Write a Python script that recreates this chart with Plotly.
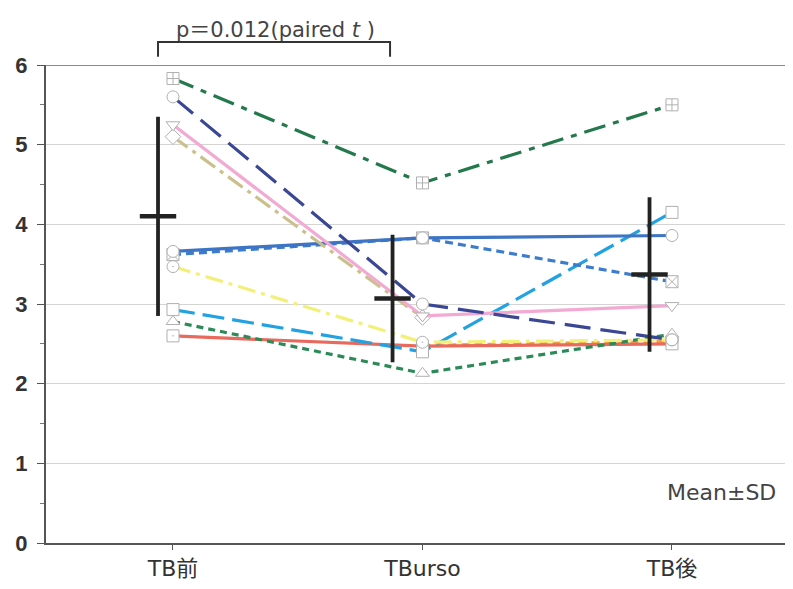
import plotly.graph_objects as go

categories = ["TB前", "TBurso", "TB後"]

# Individual subjects
s_green_dd = [5.83, 4.52, 5.50]
s_navy = [5.60, 3.00, 2.55]
s_pink = [5.25, 2.85, 2.98]
s_khaki = [5.10, 2.83, None]
s_blue_solid = [3.66, 3.83, 3.86]
s_blue_dash = [3.62, 3.83, 3.28]
s_yellow = [3.47, 2.52, 2.55]
s_lightblue = [2.93, 2.40, 4.15]
s_green_dot = [2.78, 2.13, 2.62]
s_red = [2.60, 2.47, 2.50]
s_orange = [None, 2.48, 2.53]

# Mean and SD
means = [4.10, 3.07, 3.37]
sds = [1.25, 0.80, 0.97]

y_ticks = [0, 1, 2, 3, 4, 5, 6]

series = [
    (s_orange, "#f2a040", "8px,5px", "circle-dot"),
    (s_red, "#e86a5c", "solid", "square-dot"),
    (s_green_dot, "#2b8a55", "7px,5px", "triangle-up"),
    (s_lightblue, "#22a2e0", "22px,8px", "square"),
    (s_yellow, "#f3f07a", "18px,6px,4px,6px", "circle-dot"),
    (s_blue_dash, "#3d7ccc", "8px,5px", "square-x"),
    (s_blue_solid, "#3d74c4", "solid", "circle"),
    (s_khaki, "#cbc08c", "18px,6px,4px,6px", "diamond"),
    (s_pink, "#f2aad2", "solid", "triangle-down"),
    (s_navy, "#3a4794", "26px,10px", "circle"),
    (s_green_dd, "#23784c", "22px,8px,6px,8px", "square-cross"),
]

x_idx = list(range(len(categories)))
fig = go.Figure()
for vals, col, dash, sym in series:
    fig.add_trace(go.Scatter(
        x=x_idx, y=vals, mode="lines+markers",
        line=dict(color=col, width=3.2, dash=dash),
        marker=dict(symbol=sym, size=12, color="white",
                    line=dict(color="#b0b0b0", width=1)),
        showlegend=False, hoverinfo="skip", cliponaxis=False,
    ))

err_offsets = [-0.06, -0.12, -0.09]
fig.add_trace(go.Scatter(
    x=[i + o for i, o in zip(x_idx, err_offsets)], y=means, mode="markers",
    marker=dict(symbol="line-ew", size=26, line=dict(color="#222", width=4.5)),
    error_y=dict(type="data", array=sds, visible=True, color="#222",
                 thickness=3.8, width=0),
    showlegend=False, hoverinfo="skip",
))

font_main = "DejaVu Sans, Noto Sans CJK JP, sans-serif"

fig.update_layout(
    width=785, height=581,
    margin=dict(l=38, r=8, t=57, b=46),
    paper_bgcolor="white", plot_bgcolor="white",
    font=dict(family=font_main, color="#333"),
    xaxis=dict(
        range=[-0.509, 2.453], tickvals=x_idx, ticktext=categories,
        showgrid=False, zeroline=False, showline=True, automargin=False,
        linecolor="#555", linewidth=2,
        ticks="outside", ticklen=5, tickcolor="#555",
        tickfont=dict(size=22, color="#333", family=font_main),
    ),
    yaxis=dict(
        range=[0, 6], tickvals=y_ticks, automargin=False,
        showgrid=True, gridcolor="#d4d4d4", gridwidth=1,
        zeroline=False, showline=True, linecolor="#555", linewidth=2,
        ticks="outside", ticklen=7, tickcolor="#555", ticklabelstandoff=5,
        minor=dict(dtick=0.5, ticks="outside", ticklen=4, tickcolor="#777", showgrid=False),
        tickfont=dict(size=22, color="#333", family="Liberation Sans, Arial, sans-serif", weight="bold"),
    ),
    shapes=[
        dict(type="line", xref="paper", yref="y", x0=0, x1=1, y0=6, y1=6,
             line=dict(color="#888", width=2)),
        dict(type="path", xref="x", yref="paper",
             path="M -0.06,1.017 L -0.06,1.048 L 0.87,1.048 L 0.87,1.017",
             line=dict(color="#333", width=2)),
    ],
    annotations=[
        dict(x=0.41, y=1.073, xref="x", yref="paper", showarrow=False,
             yanchor="middle",
             text="p＝0.012(paired <i>t</i> )",
             font=dict(size=21, color="#444", family=font_main)),
        dict(x=2.2, y=0.63, xref="x", yref="y", showarrow=False,
             yanchor="middle",
             text="Mean±SD",
             font=dict(size=22, color="#444", family=font_main)),
    ],
)

fig.write_html("out.html")
